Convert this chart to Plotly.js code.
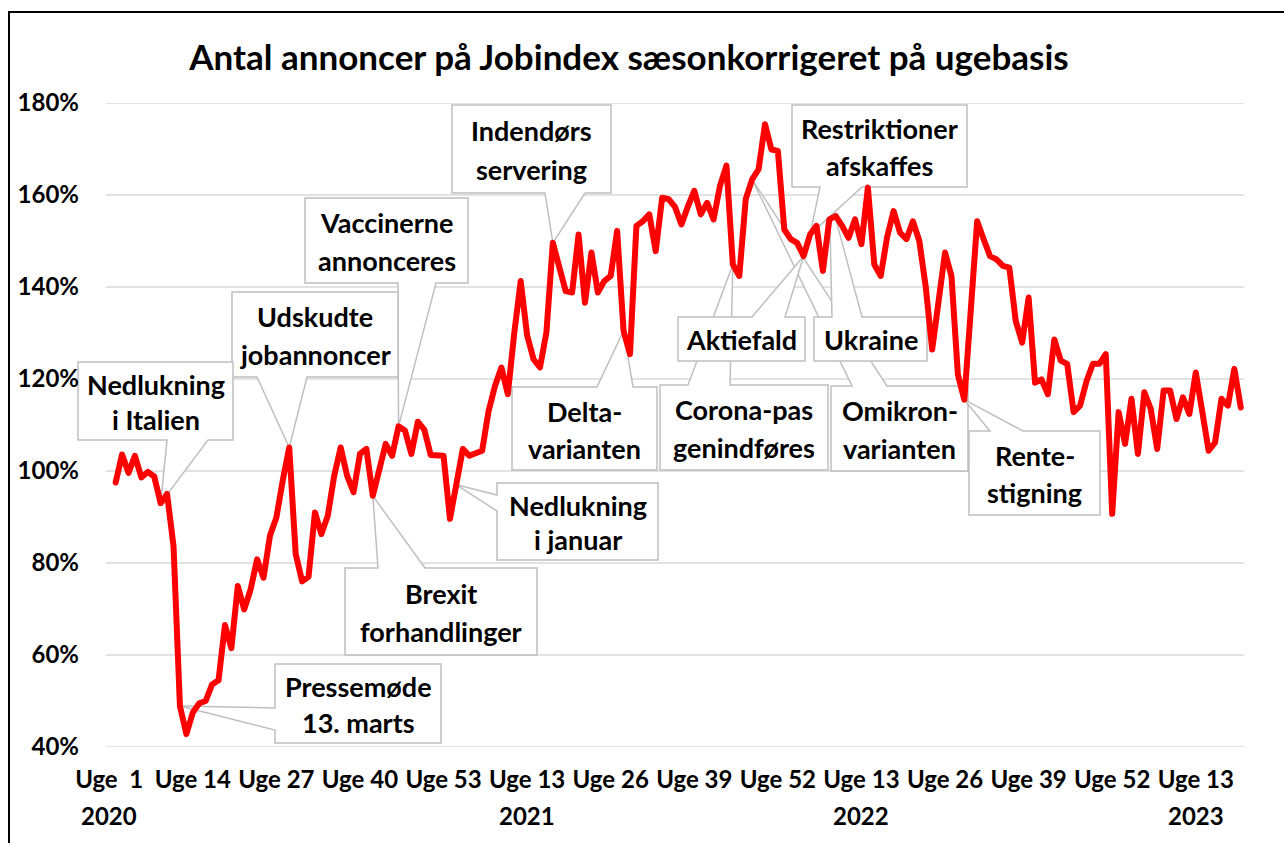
<!DOCTYPE html>
<html><head><meta charset="utf-8">
<script src="https://cdn.plot.ly/plotly-3.0.1.min.js"></script>
<style>
html,body{margin:0;padding:0;background:#fff;overflow:hidden;}
#chart{width:1284px;height:843px;position:relative;}
#frame{position:absolute;left:8px;top:11px;width:1400px;height:1000px;border:2px solid #000;pointer-events:none;}
.scatterlayer .js-line{stroke-linejoin:round !important;stroke-linecap:round !important;}
</style></head><body>
<div id="chart"></div><div id="frame"></div>
<script>
// ---------- DATA ----------
const chartTitle = "Antal annoncer på Jobindex sæsonkorrigeret på ugebasis";
const years = [2020, 2021, 2022, 2023];
const weeksInYear = [53, 52, 52, 20];
const categories = [];
years.forEach((y, k) => { for (let w = 1; w <= weeksInYear[k]; w++) categories.push(y + "-U" + w); });

const tickCategories = ["2020-U1","2020-U14","2020-U27","2020-U40","2020-U53","2021-U13","2021-U26","2021-U39","2021-U52","2022-U13","2022-U26","2022-U39","2022-U52","2023-U13"];
const tickLabels = ["Uge\u00a0\u00a01","Uge 14","Uge 27","Uge 40","Uge 53","Uge 13","Uge 26","Uge 39","Uge 52","Uge 13","Uge 26","Uge 39","Uge 52","Uge 13"];
const yearLabelCategories = ["2020-U1","2021-U13","2022-U13","2023-U13"];
const yearLabels = ["2020","2021","2022","2023"];
const yTicks = [40, 60, 80, 100, 120, 140, 160, 180];
const yTickLabels = ["40%","60%","80%","100%","120%","140%","160%","180%"];

// index (%) per week; first week has no point
const values2020 = [null, 97.5, 103.6, 99.6, 103.3, 98.6, 99.8, 98.8, 93.0, 95.0,
  83.7, 48.9, 42.8, 47.5, 49.5, 50.0, 53.6, 54.5, 66.5, 61.5,
  75.0, 69.9, 74.3, 80.8, 76.8, 85.9, 89.9, 98.0, 105.1, 82.0,
  76.0, 77.0, 91.0, 86.3, 90.3, 99.0, 105.1, 99.0, 95.4, 103.7,
  104.8, 94.6, 100.0, 105.9, 103.3, 109.7, 108.8, 103.7, 110.7, 109.0,
  103.5, 103.5, 103.3];
const values2021 = [89.6, 97.0, 104.8, 103.3, 103.7, 104.4, 113.0, 118.5, 122.5, 116.7,
  130.0, 141.3, 129.5, 124.3, 122.5, 130.1, 149.6, 144.0, 139.1, 138.8,
  151.4, 136.6, 147.5, 138.8, 141.3, 142.4, 152.2, 130.5, 125.4, 153.3,
  154.3, 155.8, 147.8, 159.4, 159.1, 157.4, 153.6, 157.5, 160.9, 155.8,
  158.3, 154.7, 162.0, 166.4, 144.9, 142.4, 159.1, 163.4, 165.6, 175.4,
  169.9, 169.6];
const values2022 = [152.5, 150.4, 149.6, 146.7, 151.4, 153.3, 143.5, 154.7, 155.4, 153.3,
  150.7, 154.7, 149.3, 161.6, 144.9, 142.4, 150.9, 156.5, 151.8, 150.4,
  154.3, 150.0, 140.0, 126.4, 137.5, 147.5, 142.4, 121.0, 115.5, 136.0,
  154.3, 150.4, 146.7, 146.0, 144.6, 144.2, 132.6, 127.9, 137.7, 119.2,
  119.9, 116.7, 128.6, 124.0, 123.3, 112.8, 114.2, 119.5, 123.3, 123.3,
  125.4, 90.7];
const values2023 = [112.8, 105.9, 115.7, 103.7, 117.1, 113.5, 104.8, 117.5, 117.5, 111.3,
  116.0, 112.4, 121.4, 113.0, 104.4, 106.2, 115.7, 114.2, 122.2, 113.8];
const values = values2020.concat(values2021, values2022, values2023);

// ---------- LAYOUT GEOMETRY ----------
const W = 1284, H = 843;
const M = {l: 106, r: 40, t: 103, b: 96};
const PW = W - M.l - M.r, PH = H - M.t - M.b;
const px2x = px => (px - M.l) / PW;
const py2y = py => (H - M.b - py) / PH;
const FONT = "Lato, 'Open Sans', sans-serif";

// callouts: box [left,right,top,bottom] in page pixels, wedge edge + base, tip category
const callouts = [
  {lines: ["Vaccinerne", "annonceres"], box: [305, 468, 198, 283], edge: "bottom", base: [398, 436], tip: "2020-U46"},
  {lines: ["Udskudte", "jobannoncer"], box: [232, 398, 292, 377], edge: "bottom", base: [257, 307], tip: "2020-U29"},
  {lines: ["Nedlukning", "i Italien"], box: [78, 233, 362, 440], edge: "bottom", base: [167, 208], tip: "2020-U9"},
  {lines: ["Pressemøde", "13. marts"], box: [275, 441, 664, 743], edge: "left", base: [708, 730], tip: "2020-U12"},
  {lines: ["Indendørs", "servering"], box: [452, 611, 105, 193], edge: "bottom", base: [545, 585], tip: "2021-U17"},
  {lines: ["Delta-", "varianten"], box: [512, 657, 387, 470], edge: "top", base: [597, 633], tip: "2021-U28"},
  {lines: ["Nedlukning", "i januar"], box: [497, 658, 483, 560], edge: "left", base: [495, 511], tip: "2021-U2"},
  {lines: ["Brexit", "forhandlinger"], box: [345, 537, 568, 655], edge: "top", base: [378, 425], tip: "2020-U42"},
  {lines: ["Corona-pas", "genindføres"], box: [660, 828, 385, 470], edge: "top", base: [688, 730], tip: "2021-U45"},
  {lines: ["Omikron-", "varianten"], box: [831, 968, 386, 471], edge: "top", base: [852, 887], tip: "2021-U48"},
  {lines: ["Aktiefald"], box: [678, 805, 317, 361], edge: "top", base: [752, 785], tip: "2022-U4"},
  {lines: ["Ukraine"], box: [814, 927, 317, 361], edge: "top", base: [832, 862], tip: "2022-U8", tipValue: 160},
  {lines: ["Restriktioner", "afskaffes"], box: [792, 967, 105, 187], edge: "bottom", base: [820, 862], tip: "2022-U5"},
  {lines: ["Rente-", "stigning"], box: [969, 1100, 431, 515], edge: "top", base: [990, 1023], tip: "2022-U29"}
];

const nCat = categories.length;
const catX = c => (categories.indexOf(c) + 0.5) / nCat;
function tipPaper(c) {
  const idx = categories.indexOf(c.tip);
  const v = (c.tipValue !== undefined) ? c.tipValue : values[idx];
  return [(idx + 0.5) / nCat, (v - 40) / 140];
}
function calloutPath(c) {
  const [x0, x1, y0, y1] = c.box;
  const T = "TIP";
  let pts;
  if (c.edge === "bottom") pts = [[x0, y0], [x1, y0], [x1, y1], [c.base[1], y1], T, [c.base[0], y1], [x0, y1]];
  else if (c.edge === "top") pts = [[x0, y0], [c.base[0], y0], T, [c.base[1], y0], [x1, y0], [x1, y1], [x0, y1]];
  else pts = [[x0, y0], [x1, y0], [x1, y1], [x0, y1], [x0, c.base[1]], T, [x0, c.base[0]]];
  const tp = tipPaper(c);
  return pts.map((p, k) => {
    const xy = p === T ? tp : [px2x(p[0]), py2y(p[1])];
    return (k === 0 ? "M" : "L") + xy[0].toFixed(5) + "," + xy[1].toFixed(5);
  }).join(" ") + " Z";
}

const shapes = [];
yTicks.forEach(v => shapes.push({type: "line", xref: "paper", yref: "y", x0: 0, x1: 1, y0: v, y1: v,
  layer: "below", line: {color: "#d9d9d9", width: 1.5}}));
callouts.forEach(c => shapes.push({type: "path", xref: "paper", yref: "paper", layer: "below",
  path: calloutPath(c), fillcolor: "#ffffff", line: {color: "#bfbfbf", width: 1.5}}));

const annotations = [];
callouts.forEach(c => {
  const [x0, x1, y0, y1] = c.box;
  const h = y1 - y0;
  const ys = c.lines.length === 1 ? [y0 + h / 2] : [y0 + h * 0.29, y0 + h * 0.735];
  c.lines.forEach((t, k) => annotations.push({
    text: t, xref: "paper", yref: "paper", x: px2x((x0 + x1) / 2), y: py2y(ys[k]),
    xanchor: "center", yanchor: "middle", showarrow: false,
    font: {family: FONT, size: 27, color: "#000", weight: 700}
  }));
});
yearLabelCategories.forEach((c, k) => annotations.push({
  text: yearLabels[k], xref: "paper", yref: "paper", x: catX(c), y: py2y(815),
  xanchor: "center", yanchor: "middle", showarrow: false,
  font: {family: FONT, size: 24, color: "#000", weight: 700}
}));

const trace = {
  type: "scatter", mode: "lines", x: categories, y: values,
  line: {color: "#ff0000", width: 6, shape: "linear"},
  hoverinfo: "skip", connectgaps: false
};

const layout = {
  width: W, height: H, margin: M,
  paper_bgcolor: "#fff", plot_bgcolor: "rgba(0,0,0,0)",
  showlegend: false,
  title: {text: chartTitle, x: 629 / W, xref: "container", xanchor: "center",
          y: 1 - 58 / H, yref: "container", yanchor: "middle",
          font: {family: FONT, size: 35, color: "#000", weight: 700}},
  xaxis: {type: "category", categoryorder: "array", categoryarray: categories,
          range: [-0.5, nCat - 0.5], showgrid: false, zeroline: false, showline: false,
          ticks: "", tickmode: "array", tickvals: tickCategories, ticktext: tickLabels,
          tickangle: 0, ticklabelstandoff: 16,
          tickfont: {family: FONT, size: 24, color: "#000", weight: 700}},
  yaxis: {range: [40, 180], showgrid: false, zeroline: false, showline: false,
          ticks: "", tickmode: "array", tickvals: yTicks, ticktext: yTickLabels,
          ticklabelstandoff: 26,
          tickfont: {family: FONT, size: 24, color: "#000", weight: 700}},
  shapes: shapes, annotations: annotations
};

Plotly.newPlot("chart", [trace], layout, {staticPlot: true, displayModeBar: false});
</script></body></html>
